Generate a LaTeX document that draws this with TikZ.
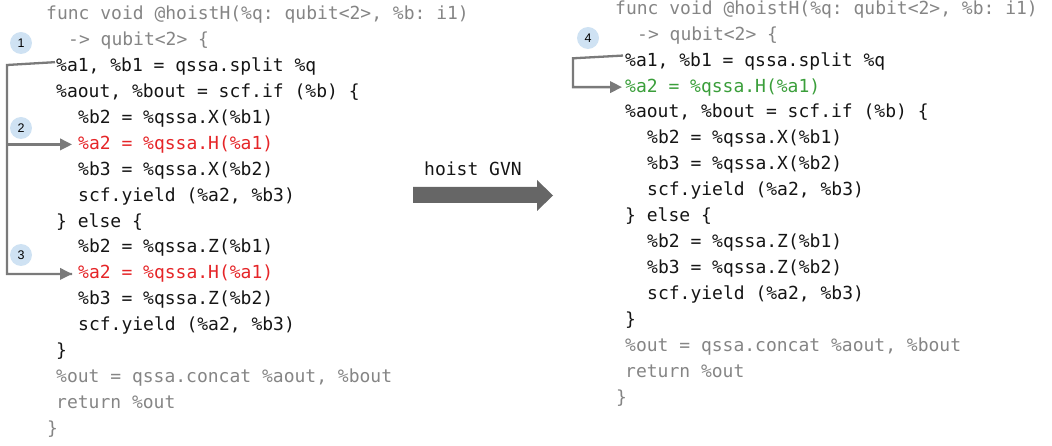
\documentclass[tikz,border=0pt]{standalone}
\usepackage{fontspec}
\setmonofont{DejaVu Sans Mono}
\setsansfont{Liberation Sans}
\usetikzlibrary{arrows.meta}
\definecolor{codegray}{HTML}{858585}
\definecolor{codeblack}{HTML}{151515}
\definecolor{codered}{HTML}{E52528}
\definecolor{codegreen}{HTML}{3A9E3A}
\definecolor{circblue}{HTML}{CFE2F3}
\definecolor{conncol}{HTML}{7A7A7A}
\definecolor{bigcol}{HTML}{666666}
\begin{document}
\begin{tikzpicture}[x=1pt,y=-1pt,
  code/.style={anchor=mid west, inner sep=0pt, font=\ttfamily\fontsize{18}{22}\selectfont, text=codeblack},
  gray/.style={code, text=codegray},
  red/.style={code, text=codered},
  green/.style={code, text=codegreen},
  badge/.style={circle, fill=circblue, inner sep=0pt, minimum size=22pt, font=\sffamily\fontsize{12.5}{14}\selectfont, text=black},
  conn/.style={draw=conncol, line width=2.3pt, -{Triangle[length=12pt,width=11.5pt]}},
  connplain/.style={draw=conncol, line width=2.3pt}
]
\useasboundingbox (0,0) rectangle (1052,446);
% ---------- left panel ----------
\node[gray] (l1) at (46,17.7) {func void @hoistH(\%q: qubit<2>, \%b: i1)};
\node[gray] (l2) at (68,43.6) {-> qubit<2> \{};
\node[code] (l3) at (56,69.5) {\%a1, \%b1 = qssa.split \%q};
\node[code] (l4) at (56,95.4) {\%aout, \%bout = scf.if (\%b) \{};
\node[code] (l5) at (78,121.3) {\%b2 = \%qssa.X(\%b1)};
\node[red]  (l6) at (78,147.2) {\%a2 = \%qssa.H(\%a1)};
\node[code] (l7) at (78,173.1) {\%b3 = \%qssa.X(\%b2)};
\node[code] (l8) at (78,199.0) {scf.yield (\%a2, \%b3)};
\node[code] (l9) at (56,224.9) {\} else \{};
\node[code] (l10) at (78,250.8) {\%b2 = \%qssa.Z(\%b1)};
\node[red]  (l11) at (78,276.7) {\%a2 = \%qssa.H(\%a1)};
\node[code] (l12) at (78,302.6) {\%b3 = \%qssa.Z(\%b2)};
\node[code] (l13) at (78,328.5) {scf.yield (\%a2, \%b3)};
\node[code] (l14) at (56,354.4) {\}};
\node[gray] (l15) at (56,380.3) {\%out = qssa.concat \%aout, \%bout};
\node[gray] (l16) at (56,406.2) {return \%out};
\node[gray] (l17) at (47,432.1) {\}};
\node[badge] (c1) at (21,43) {1};
\node[badge] (c2) at (21,128) {2};
\node[badge] (c3) at (21,255) {3};
\coordinate (lcorner) at (7,65);
\draw[connplain] ([yshift=4.5pt,xshift=-1pt]l3.west) -- (lcorner) -- (lcorner |- l11.west) -- ([xshift=-6pt]l11.west);
\path (lcorner |- l6.west) coordinate (lbranch);
\draw[conn] (lbranch) -- ([xshift=-6pt]l6.west);
\draw[conn] ([xshift=1.1pt]lcorner |- l11.west) -- ([xshift=-6pt]l11.west);
% ---------- big arrow ----------
\node[code] (lab) at (424,173) {hoist GVN};
\fill[bigcol] (413,187) -- (537,187) -- (537,180) -- (553,195.5) -- (537,211) -- (537,203) -- (413,203) -- cycle;
% ---------- right panel ----------
\node[gray] (r1) at (615,12) {func void @hoistH(\%q: qubit<2>, \%b: i1)};
\node[gray] (r2) at (637,38) {-> qubit<2> \{};
\node[code] (r3) at (625,63.9) {\%a1, \%b1 = qssa.split \%q};
\node[green] (r4) at (625,89.9) {\%a2 = \%qssa.H(\%a1)};
\node[code] (r5) at (625,115.8) {\%aout, \%bout = scf.if (\%b) \{};
\node[code] (r6) at (647,141.8) {\%b2 = \%qssa.X(\%b1)};
\node[code] (r7) at (647,167.7) {\%b3 = \%qssa.X(\%b2)};
\node[code] (r8) at (647,193.7) {scf.yield (\%a2, \%b3)};
\node[code] (r9) at (625,219.6) {\} else \{};
\node[code] (r10) at (647,245.6) {\%b2 = \%qssa.Z(\%b1)};
\node[code] (r11) at (647,271.5) {\%b3 = \%qssa.Z(\%b2)};
\node[code] (r12) at (647,297.5) {scf.yield (\%a2, \%b3)};
\node[code] (r13) at (625,323.4) {\}};
\node[gray] (r14) at (625,349.4) {\%out = qssa.concat \%aout, \%bout};
\node[gray] (r15) at (625,375.3) {return \%out};
\node[gray] (r16) at (616,401.3) {\}};
\node[badge] (c4) at (588,38) {4};
\coordinate (rcorner) at (573,58.3);
\draw[conn] ([yshift=5.5pt,xshift=-2pt]r3.west) -- (rcorner) |- ([xshift=-3pt]r4.west);
\end{tikzpicture}
\end{document}
